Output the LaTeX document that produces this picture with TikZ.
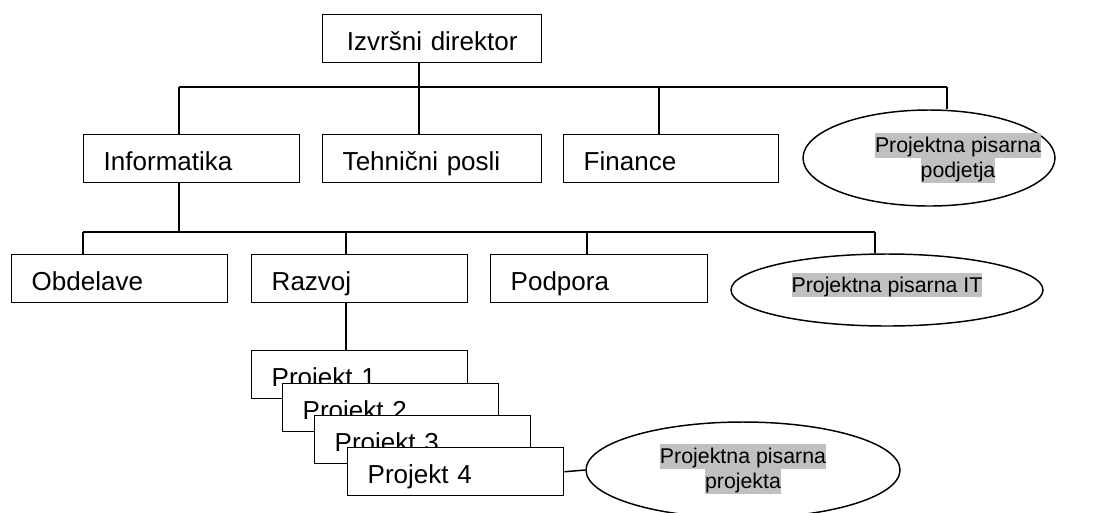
\documentclass[tikz,border=0pt]{standalone}
\usepackage{fontspec}
\setmainfont{Liberation Sans}
\usetikzlibrary{shapes.geometric}
\definecolor{hlgray}{HTML}{C0C0C0}
\newcommand{\hlstrut}{\rule[-3.9pt]{0pt}{18.5pt}}
\newcommand{\hltext}[1]{{\setlength{\fboxsep}{0pt}\colorbox{hlgray}{\hlstrut #1}}}
\begin{document}
\begin{tikzpicture}[x=0.75pt,y=-0.75pt,
  orgbox/.style={draw, fill=white, line width=1.1pt, anchor=north west,
    minimum height=36pt, inner ysep=0pt, inner xsep=15pt,
    text height=19pt, text depth=1pt, align=left,
    font=\fontsize{19.5}{23}\selectfont},
  office/.style={draw, fill=white, ellipse, line width=1.1pt, inner sep=0pt},
  officetext/.style={align=center, inner sep=0pt,
    font=\fontsize{16}{18.5}\selectfont},
  conn/.style={line width=1.1pt}]
\useasboundingbox (0,0) rectangle (1109,512);
\clip (0,0) rectangle (1109,512);

% top level
\node[orgbox, align=center, text width=134.25pt] (dir) at (322,14) {Izvršni direktor};

% second level
\node[orgbox, text width=132pt]    (inf) at (83,134)  {Informatika};
\node[orgbox, text width=134.25pt] (teh) at (322,134) {Tehnični posli};
\node[orgbox, text width=131.25pt] (fin) at (563,134) {Finance};
\node[office, minimum width=189pt, minimum height=72pt] (ppp) at (929,158) {};
\node[officetext] (pppT) at (958,158) {\hltext{Projektna pisarna}\\\hltext{podjetja}};

% third level
\node[orgbox, text width=132pt]    (obd) at (11,254)  {Obdelave};
\node[orgbox, text width=132pt]    (raz) at (251,254) {Razvoj};
\node[orgbox, text width=132.75pt] (pod) at (490,254) {Podpora};
\node[office, minimum width=234pt, minimum height=54pt] (pit) at (887,290) {};
\node[officetext] (pitT) at (887,285) {\hltext{Projektna pisarna IT}};

% stacked projects
\node[orgbox, text width=132pt] (p1) at (251,350) {Projekt 1};
\node[orgbox, text width=132pt] (p2) at (282,383) {Projekt 2};
\node[orgbox, text width=132pt] (p3) at (314,415) {Projekt 3};
\node[orgbox, text width=132pt] (p4) at (347,447) {Projekt 4};
\node[office, minimum width=235.5pt, minimum height=72pt] (ppr) at (743,470) {};
\node[officetext] (pprT) at (743,469) {\hltext{Projektna pisarna}\\\hltext{projekta}};

% bus junctions
\coordinate (busA) at (179,87);
\coordinate (tapDir) at (419,87);
\coordinate (tapFin) at (659,87);
\coordinate (busB) at (947,87);
\coordinate (busC) at (83,232);
\coordinate (tapInf) at (179,232);
\coordinate (tapRaz) at (346,232);
\coordinate (tapPod) at (587,232);
\coordinate (busD) at (875,232);
\coordinate (tapP1) at (346,350);

% upper connectors
\draw[conn] (busA) -- (busB);
\draw[conn] (dir.south -| tapDir) -- (tapDir);
\draw[conn] (tapDir) -- (teh.north -| tapDir);
\draw[conn] (busA) -- (inf.north -| busA);
\draw[conn] (tapFin) -- (fin.north -| tapFin);
\draw[conn] (busB) -- (ppp.north -| busB);

% lower connectors
\draw[conn] (inf.south -| tapInf) -- (tapInf);
\draw[conn] (busC) -- (busD);
\draw[conn] (busC) -- (obd.north -| busC);
\draw[conn] (tapRaz) -- (raz.north -| tapRaz);
\draw[conn] (tapPod) -- (pod.north -| tapPod);
\draw[conn] (busD) -- (pit.north -| busD);

% project connectors
\draw[conn] (raz.south -| tapP1) -- (p1.north -| tapP1);
\draw[conn] (p4.east) -- (ppr.west);
\end{tikzpicture}
\end{document}
